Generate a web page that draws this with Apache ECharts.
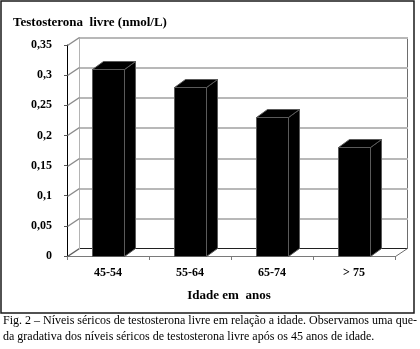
<!DOCTYPE html>
<html>
<head>
<meta charset="utf-8">
<script src="https://cdn.jsdelivr.net/npm/echarts@6/dist/echarts.min.js"></script>
<style>
  html, body { margin: 0; padding: 0; background: #fff; }
  #chart { width: 420px; height: 349px; }
</style>
</head>
<body>
<div id="chart"></div>
<script>
// Age groups and mean free testosterone (nmol/L)
const categories = ['45-54', '55-64', '65-74', '> 75'];
const values = [0.31, 0.28, 0.23, 0.18];
const yTickValues = [0, 0.05, 0.1, 0.15, 0.2, 0.25, 0.3, 0.35];
const yTickLabels = ['0', '0,05', '0,1', '0,15', '0,2', '0,25', '0,3', '0,35'];

const yTitle = 'Testosterona  livre (nmol/L)';
const xTitle = 'Idade em  anos';
const captionLines = [
  'Fig. 2 – Níveis séricos de testosterona livre em relação a idade. Observamos uma que-',
  'da gradativa dos níveis séricos de testosterona livre após os 45 anos de idade.'
];

const SERIF = "'Liberation Serif', 'Times New Roman', serif";
const DEPTH = [12, -8];      // pseudo-3D offset of the back wall
const BAR_DEPTH = [11, -8];  // offset of the bar back faces

const FRONT = { left: 67, right: 25, top: 45, bottom: 93 };

// Condense the caption so the justified first line spans the frame width
const measureCtx = document.createElement('canvas').getContext('2d');
measureCtx.font = '13px ' + SERIF;
const captionScale = 414 / measureCtx.measureText(captionLines[0]).width;

const chart = echarts.init(document.getElementById('chart'), null, { renderer: 'canvas' });

function px(v) { return Math.round(v) + 0.5; }

// horizontal / vertical strokes drawn as filled rects
function hLine(xa, xb, y, color, t) {
  return { type: 'rect', shape: { x: Math.round(xa), y: Math.round(y), width: Math.round(xb - xa) + 1, height: t }, style: { fill: color } };
}
function vLine(x, ya, yb, color, t) {
  return { type: 'rect', shape: { x: Math.round(x), y: Math.round(ya), width: t, height: Math.round(yb - ya) + 1 }, style: { fill: color } };
}
function diag(xa, ya, xb, yb, color, w) {
  return { type: 'line', shape: { x1: px(xa), y1: px(ya), x2: px(xb), y2: px(yb) }, style: { stroke: color, lineWidth: w } };
}

// One item per tick: back wall line plus the diagonal on the left side wall;
// the first item also draws the wall edges and the floor's right edge
function wallItem(params, api) {
  const cs = params.coordSys;
  const x0 = cs.x, x1 = cs.x + cs.width;
  const dx = DEPTH[0], dy = DEPTH[1];
  const v = api.value(1);
  const y = api.coord([0, v])[1];
  const isFloor = v === 0;
  const children = [
    hLine(x0 + dx, x1 + dx, y + dy, isFloor ? '#202020' : '#b8b8b8', isFloor ? 1 : 2),
    diag(x0, y, x0 + dx, y + dy, isFloor ? '#606060' : '#8c8c8c', 1.5)
  ];
  if (params.dataIndex === 0) {
    const yTop = api.coord([0, yTickValues[yTickValues.length - 1]])[1];
    children.push(vLine(x0 + dx, yTop + dy, y + dy, '#b4b4b4', 1));
    children.push(vLine(x1 + dx, yTop + dy, y + dy, '#6e6e6e', 1));
    children.push(diag(x1, y, x1 + dx, y + dy, '#6e6e6e', 1));
  }
  return { type: 'group', children: children };
}

function barItem(params, api) {
  const idx = api.value(0);
  const v = api.value(1);
  const top = api.coord([idx, v]);
  const base = api.coord([idx, 0]);
  const w = Math.round(api.size([1, 0])[0] * 0.39);
  const xl = Math.round(top[0] - w / 2) + 0.5, xr = xl + w;
  const yt = Math.round(top[1]) + 0.5, yb = Math.round(base[1]) + 0.5;
  const dx = BAR_DEPTH[0], dy = BAR_DEPTH[1];
  const edge = { fill: '#000', stroke: '#5a5a5a', lineWidth: 1 };
  return {
    type: 'group',
    children: [
      { type: 'polygon', shape: { points: [[xr, yt], [xr + dx, yt + dy], [xr + dx, yb + dy], [xr, yb]] }, style: edge },
      { type: 'polygon', shape: { points: [[xl, yt], [xl + dx, yt + dy], [xr + dx, yt + dy], [xr, yt]] }, style: edge },
      { type: 'rect', shape: { x: xl, y: yt, width: w, height: yb - yt }, style: edge }
    ]
  };
}

const option = {
  animation: false,
  backgroundColor: '#fff',
  grid: Object.assign({ containLabel: false }, FRONT),
  xAxis: {
    type: 'category',
    data: categories,
    boundaryGap: true,
    axisLine: { show: true, lineStyle: { color: '#7a7a7a', width: 1 } },
    axisTick: { show: true, length: 4, lineStyle: { color: '#7a7a7a' } },
    axisLabel: { margin: 11, color: '#000', fontFamily: SERIF, fontWeight: 'bold', fontSize: 12 },
    splitLine: { show: false }
  },
  yAxis: {
    type: 'value',
    min: 0,
    max: 0.35,
    interval: 0.05,
    axisLine: { show: true, lineStyle: { color: '#000', width: 1 } },
    axisTick: { show: true, length: 3, lineStyle: { color: '#555' } },
    axisLabel: {
      margin: 15, color: '#000', fontFamily: SERIF, fontWeight: 'bold', fontSize: 12,
      formatter: function (v) { return yTickLabels[Math.round(v / 0.05)]; }
    },
    splitLine: { show: false }
  },
  series: [
    {
      type: 'custom',
      name: 'walls',
      renderItem: wallItem,
      data: yTickValues.map(function (v) { return [0, v]; }),
      z: 1,
      silent: true
    },
    {
      type: 'custom',
      name: 'Testosterona livre',
      renderItem: barItem,
      data: values.map(function (v, i) { return [i, v]; }),
      z: 3,
      silent: true
    }
  ],
  graphic: [
    {
      type: 'rect',
      shape: { x: 1, y: 1, width: 413, height: 312 },
      style: { fill: 'none', stroke: '#1a1a1a', lineWidth: 1.5 },
      z: 0
    },
    {
      type: 'text', x: 13, y: 23,
      style: { text: yTitle, font: 'bold 13px ' + SERIF, fill: '#000', textVerticalAlign: 'middle', verticalAlign: 'middle' }
    },
    {
      type: 'text', x: 229, y: 296,
      style: { text: xTitle, font: 'bold 13px ' + SERIF, fill: '#000', textAlign: 'center', align: 'center', textVerticalAlign: 'middle', verticalAlign: 'middle' }
    },
    {
      type: 'text', x: 3, y: 327, scaleX: captionScale,
      style: { text: captionLines[0], font: '13px ' + SERIF, fill: '#000', textVerticalAlign: 'bottom', verticalAlign: 'bottom' }
    },
    {
      type: 'text', x: 3, y: 343, scaleX: captionScale,
      style: { text: captionLines[1], font: '13px ' + SERIF, fill: '#000', textVerticalAlign: 'bottom', verticalAlign: 'bottom' }
    }
  ]
};

chart.setOption(option);
</script>
</body>
</html>
